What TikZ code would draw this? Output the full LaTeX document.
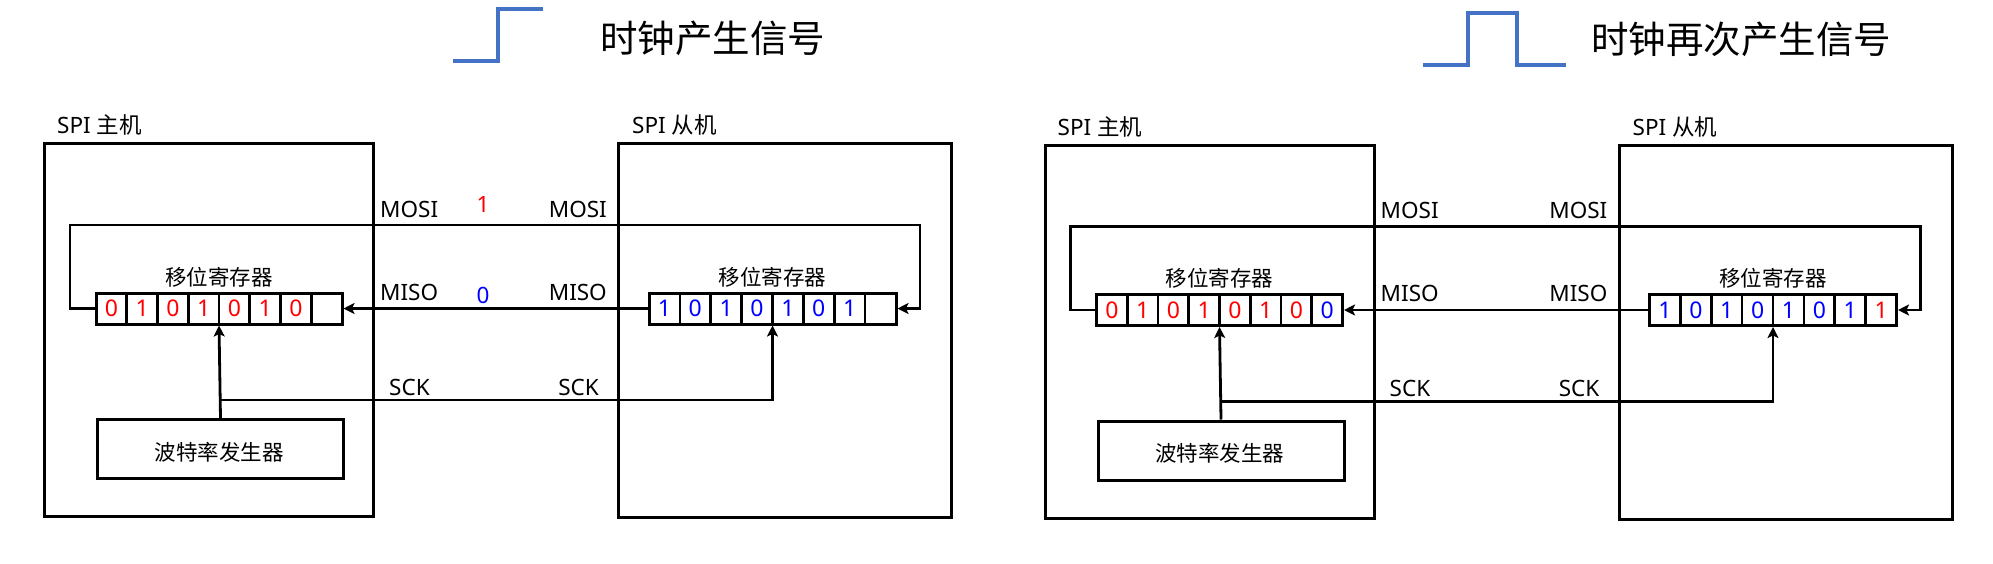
\documentclass[tikz,border=0pt]{standalone}
\usepackage{fontspec}
\setmainfont{Noto Sans}
\newfontfamily\cjk{Noto Sans CJK SC}
\usetikzlibrary{arrows.meta}
\definecolor{clkblue}{HTML}{4472C4}
\definecolor{bitred}{HTML}{FF0000}
\definecolor{bitblue}{HTML}{0000FF}
\tikzset{
  wire/.style={line width=2.8pt, line join=miter},
  arr/.style={wire, -{Stealth[length=11pt,width=11pt,inset=2.5pt]}},
  devbox/.style={draw, line width=3pt, anchor=north west, inner sep=0pt},
  regbox/.style={draw, line width=3pt, minimum height=31pt, inner sep=0pt},
  cellbox/.style={draw, line width=2.6pt, minimum height=31pt, inner sep=0pt, font=\fontsize{23}{27}\selectfont},
  lbl/.style={font=\fontsize{22.5}{27}\selectfont, inner sep=0pt},
  cjklbl/.style={font=\cjk\fontsize{21.5}{26}\selectfont, inner sep=0pt},
  title/.style={font=\cjk\fontsize{37.5}{44}\selectfont, inner sep=0pt, anchor=west},
  clk/.style={draw=clkblue, line width=4.2pt},
}
\newcommand\spipanel[3]{%
  \node[devbox, minimum width=329pt, minimum height=373pt] (#1m) at (43,142) {};
  \node[devbox, minimum width=333pt, minimum height=374pt] (#1s) at (617,142) {};
  \node[lbl, anchor=west] (#1mt) at (57,125) {SPI {\cjk 主机}};
  \node[lbl, anchor=west] (#1st) at (632,125) {SPI {\cjk 从机}};
  \node[devbox, minimum width=246pt, minimum height=59pt] (#1bg) at (96,418) {};
  \node[cjklbl] (#1bgt) at (219,452) {波特率发生器};
  \node[regbox, minimum width=246pt] (#1mr) at (219,308.5) {};
  \node[regbox, minimum width=247pt] (#1sr) at (772.5,308.5) {};
  \node[cjklbl] (#1mrt) at (219,277) {移位寄存器};
  \node[cjklbl] (#1srt) at (772.5,277) {移位寄存器};
  \coordinate (#1ml) at (70,225);
  \coordinate (#1sx) at (920,225);
  \coordinate (#1k) at (219,400);
  \draw[arr] (#1mr.west) -| (#1ml) -- (#1sx) |- (#1sr.east);
  \draw[arr] (#1sr.west) -- (#1mr.east);
  \draw[arr] (#1bg.north) -- (#1mr.south);
  \draw[arr] (#1k) -| (#1sr.south);
  \foreach \bit/\col [count=\i from 0] in {#2} {
    \node[cellbox, minimum width=30.75pt, text=\col] (#1mc\i) at ({96+30.75*(\i+0.5)},308.5) {\bit};
  }
  \foreach \bit/\col [count=\i from 0] in {#3} {
    \node[cellbox, minimum width=30.875pt, text=\col] (#1sc\i) at ({649+30.875*(\i+0.5)},308.5) {\bit};
  }
  \node[lbl, anchor=base west] (#1mosiM) at (380,217) {MOSI};
  \node[lbl, anchor=base west] (#1misoM) at (380,300) {MISO};
  \node[lbl, anchor=base east] (#1mosiS) at (607,217) {MOSI};
  \node[lbl, anchor=base east] (#1misoS) at (607,300) {MISO};
  \node[lbl, anchor=base west] (#1sckM) at (389,395) {SCK};
  \node[lbl, anchor=base east] (#1sckS) at (599,395) {SCK};
}
\begin{document}
\begin{tikzpicture}[x=1pt,y=-1pt]
\useasboundingbox (0,0) rectangle (1993,563);
% clock waveforms and titles
\draw[clk] (453,61) -- (498,61) -- (498,9) -- (543,9);
\node[title] (t1) at (600,38) {时钟产生信号};
\draw[clk] (1423,65) -- (1468,65) -- (1468,13) -- (1517,13) -- (1517,65) -- (1566,65);
\node[title] (t2) at (1591,39) {时钟再次产生信号};
% panel 1
\spipanel{A}{0/bitred,1/bitred,0/bitred,1/bitred,0/bitred,1/bitred,0/bitred,\phantom{0}/black}{1/bitblue,0/bitblue,1/bitblue,0/bitblue,1/bitblue,0/bitblue,1/bitblue,\phantom{0}/black}
\node[lbl, text=bitred, anchor=base] (A1) at (483,212) {1};
\node[lbl, text=bitblue, anchor=base] (A0) at (483,303) {0};
% panel 2
\begin{scope}[shift={(1000.5,1.5)}]
\spipanel{B}{0/bitred,1/bitred,0/bitred,1/bitred,0/bitred,1/bitred,0/bitred,0/bitblue}{1/bitblue,0/bitblue,1/bitblue,0/bitblue,1/bitblue,0/bitblue,1/bitblue,1/bitred}
\end{scope}
\end{tikzpicture}
\end{document}
